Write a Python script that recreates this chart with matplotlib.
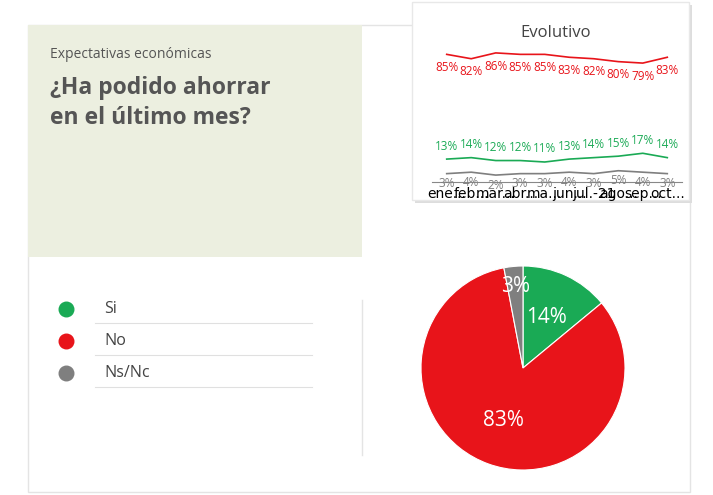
import matplotlib
matplotlib.use("Agg")
from matplotlib import pyplot as plt
from matplotlib.patches import Rectangle
import numpy as np

W, H = 713, 495

months = ["ene...", "feb...", "mar...", "abr...", "ma...", "jun...", "jul.-21", "ago...", "sep...", "oct..."]
si = [13, 14, 12, 12, 11, 13, 14, 15, 17, 14]
no = [85, 82, 86, 85, 85, 83, 82, 80, 79, 83]
nsnc = [3, 4, 2, 3, 3, 4, 3, 5, 4, 3]

pie_labels = ["Si", "No", "Ns/Nc"]
pie_values = [14, 83, 3]
colors = ["#1aaa55", "#e8141a", "#7f7f7f"]

FONT = "Open Sans"
fig = plt.figure(figsize=(W / 100, H / 100), dpi=100)

# background canvas in pixel coordinates
bg = fig.add_axes([0, 0, 1, 1])
bg.set_xlim(0, W)
bg.set_ylim(H, 0)
bg.axis("off")
bg.add_patch(Rectangle((28, 25), 662, 467, fc="white", ec="#e4e4e4", lw=1))
bg.add_patch(Rectangle((28, 25), 334, 232, fc="#ecefe0", ec="none"))
bg.text(50, 55, "Expectativas económicas", fontsize=10, color="#555555", family=FONT, va="center")
bg.text(50, 103, "¿Ha podido ahorrar\nen el último mes?", fontsize=16.5, color="#555555",
        family=FONT, weight="bold", va="center", linespacing=1.3)
bg.plot([362, 362], [300, 455], color="#e4e4e4", lw=1)

for i, (lab, c) in enumerate(zip(pie_labels, colors)):
    y = 309 + i * 32
    bg.scatter([66], [y], s=110, color=c)
    bg.text(104, y, lab, fontsize=11.5, color="#444444", family=FONT, va="center")
    bg.plot([95, 312], [y + 14, y + 14], color="#e0e0e0", lw=0.8)

# inset box with shadow
bg.add_patch(Rectangle((415, 5), 277, 198, fc="#dddddd", ec="none"))
bg.add_patch(Rectangle((412, 2), 277, 198, fc="white", ec="#e8e8e8", lw=1))
bg.text(556, 33, "Evolutivo", fontsize=12, color="#444444", family=FONT, ha="center", va="center")

# pie
pax = fig.add_axes([421 / W, 1 - 470 / H, 204 / W, 204 / H])
wedges, texts = pax.pie(pie_values, colors=colors, startangle=90, counterclock=False,
                        wedgeprops=dict(ec="white", lw=0.8))
pax.set_xlim(-1, 1)
pax.set_ylim(-1, 1)
for w, v, r in zip(wedges, pie_values, [0.55, 0.55, 0.8]):
    ang = np.deg2rad((w.theta1 + w.theta2) / 2)
    pax.text(r * np.cos(ang), r * np.sin(ang), f"{v}%", color="white", fontsize=15,
             family=FONT, ha="center", va="center")

# line chart
lax = fig.add_axes([432 / W, 1 - 178 / H, 250 / W, 128 / H])
x = list(range(len(months)))
for vals, c, off in [(no, colors[1], -9), (si, colors[0], 9), (nsnc, colors[2], -7)]:
    lax.plot(x, vals, color=c, lw=1.2)
    for xi, v in zip(x, vals):
        lax.text(xi, v + off, f"{v}%", color=c, fontsize=8.5, family=FONT, ha="center", va="center")
lax.set_ylim(0, 88)
lax.set_xlim(-0.6, 9.6)
lax.set_yticks([])
lax.set_xticks(x)
lax.set_xticklabels(months)
plt.setp(lax.get_xticklabels(), rotation=45, ha="right", rotation_mode="anchor",
         fontsize=6.5, color="#888888", family=FONT)
lax.tick_params(length=0, pad=3)
for s in ["top", "right", "left"]:
    lax.spines[s].set_visible(False)
lax.spines["bottom"].set_color("#888888")
lax.spines["bottom"].set_position(("data", -3))

fig.savefig("out.png", dpi=100)
